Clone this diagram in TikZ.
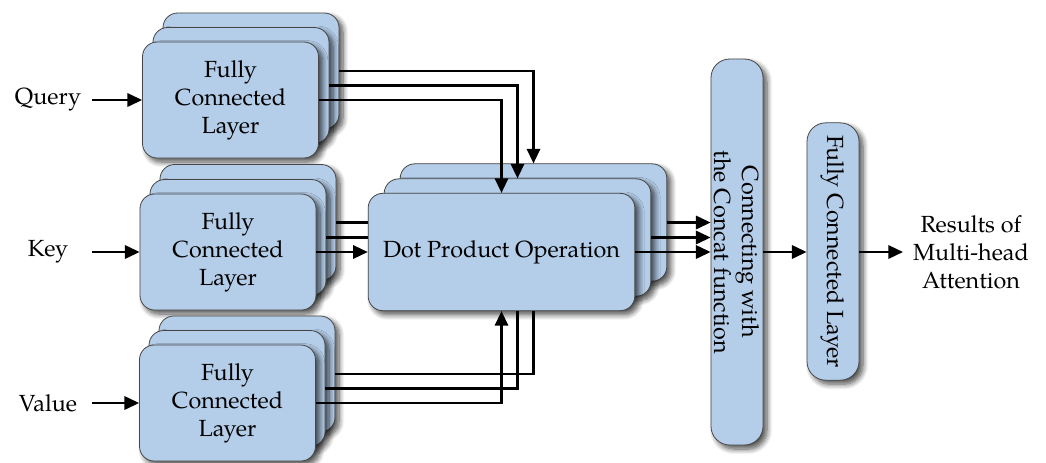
\documentclass[tikz,border=0pt]{standalone}
\usepackage{fontspec}
\setmainfont{TeX Gyre Pagella}
\usetikzlibrary{shadows.blur,arrows.meta}

\definecolor{boxblue}{RGB}{180,205,232}
\definecolor{boxedge}{RGB}{70,70,70}
\newcommand\lblfont{\fontsize{17.5}{21}\selectfont}

\tikzset{
  blk/.style={draw=boxedge, line width=0.6pt, fill=boxblue, rounded corners=11pt,
    blur shadow={shadow xshift=3pt, shadow yshift=-3pt, shadow blur radius=4pt,
      shadow blur steps=8, shadow opacity=70},
    inner sep=0pt, align=center, font=\lblfont},
  fcbox/.style={blk, minimum width=132pt, minimum height=87pt},
  dotbox/.style={blk, minimum width=200pt, minimum height=88pt},
  tallbox/.style={blk, rounded corners=14pt, minimum width=39pt},
  lbl/.style={inner sep=0pt, align=center, font=\lblfont},
  wire/.style={line width=1.7pt},
  arr/.style={wire, -{Triangle[length=11pt,width=10pt]}},
}

\begin{document}
\begin{tikzpicture}[x=0.75pt, y=-0.75pt]
\useasboundingbox (0,0) rectangle (1046,462);

% query stack
\node[fcbox] (q3) at (251,71) {};
\node[fcbox] (q2) at (241,85.5) {};
\node[fcbox] (q1) at (230.5,100) {Fully\\Connected\\Layer};

% key stack
\node[fcbox] (k3) at (248,222.5) {};
\node[fcbox] (k2) at (238,237.5) {};
\node[fcbox] (k1) at (228,252) {Fully\\Connected\\Layer};

% value stack
\node[fcbox] (v3) at (247,374) {};
\node[fcbox] (v2) at (237,388.5) {};
\node[fcbox] (v1) at (227.5,403) {Fully\\Connected\\Layer};

% key wires that pass behind the dot-product stack
\draw[wire] (k3.east) -- (k3.east -| 384,0);
\draw[wire] (k2.east) -- (k2.east -| 384,0);

% dot-product stack
\node[dotbox] (d3) at (533.5,222.5) {};
\node[dotbox] (d2) at (517.5,237.5) {};
\node[dotbox] (d1) at (501.5,252) {Dot Product Operation};

% concat and output layer
\node[tallbox, minimum height=289.5pt] (cat) at (737,252) {};
\node[lbl, rotate=-90] (cattext) at (cat.center) {Connecting with\\the Concat function};
\node[tallbox, minimum height=193pt] (fc) at (833,251.5) {};
\node[lbl, rotate=-90] (fctext) at (fc.center) {Fully Connected Layer};

% inputs and output
\node[lbl] (query) at (48,100) {Query};
\node[lbl] (key) at (48,252) {Key};
\node[lbl] (value) at (48,403) {Value};
\node[lbl] (result) at (971,252) {Results of\\Multi-head\\Attention};

\coordinate (qin) at (92,100);
\coordinate (kin) at (92,252);
\coordinate (vin) at (92,403);
\coordinate (resin) at (903,252);
\draw[arr] (qin) -- (qin -| q1.west);
\draw[arr] (kin) -- (kin -| k1.west);
\draw[arr] (vin) -- (vin -| v1.west);

% query to dot product
\draw[arr] (q1.east) -| (d1.north);
\draw[arr] (q2.east) -| (d2.north);
\draw[arr] (q3.east) -| (d3.north);

% key to dot product
\draw[arr] (k1.east) -- (d1.west);

% value to dot product
\draw[arr] (v1.east) -| (d1.south);
\draw[wire] (v2.east) -| (d2.center |- d1.south);
\draw[wire] (v3.east) -| (d3.center |- d1.south);

% dot product to concat
\draw[arr] (d3.east) -- (d3.east -| cat.west);
\draw[arr] (d2.east) -- (d2.east -| cat.west);
\draw[arr] (d1.east) -- (d1.east -| cat.west);

% concat to output
\draw[arr] (cat.east |- d1.east) -- (fc.west |- d1.east);
\draw[arr] (fc.east |- d1.east) -- (resin);
\end{tikzpicture}
\end{document}
